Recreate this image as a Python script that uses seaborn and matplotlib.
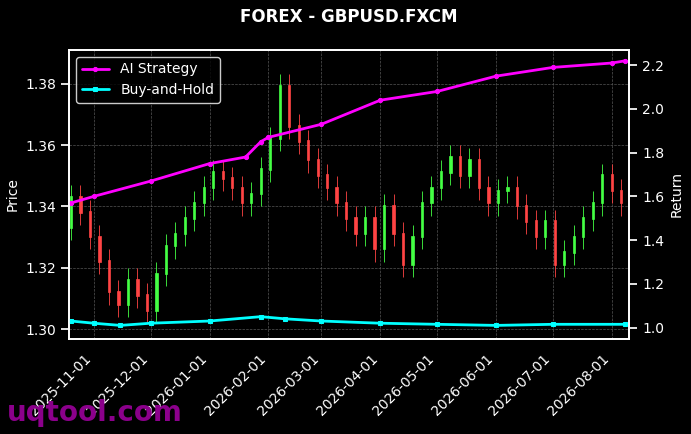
import matplotlib
matplotlib.use("Agg")
import matplotlib.pyplot as plt
import matplotlib.dates as mdates
import seaborn as sns
import pandas as pd
import numpy as np

sns.set_theme(style="dark")
plt.style.use("dark_background")
plt.rcParams['font.family'] = ['DejaVu Sans']
plt.rcParams['font.size'] = 10
plt.rcParams['xtick.labelsize'] = 10
plt.rcParams['ytick.labelsize'] = 10
plt.rcParams['axes.labelsize'] = 10
plt.rcParams['legend.fontsize'] = 10

candle_dates = pd.date_range("2025-10-20", "2026-08-08", freq="5D")
closes = [1.343,1.338,1.330,1.322,1.312,1.308,1.316,1.311,1.306,1.318,1.327,1.331,1.336,1.341,1.346,1.351,
          1.349,1.346,1.341,1.344,1.352,1.362,1.379,1.366,1.361,1.355,1.350,1.346,1.341,1.336,1.331,1.336,
          1.326,1.340,1.331,1.321,1.330,1.341,1.346,1.351,1.356,1.350,1.355,1.346,1.341,1.345,1.346,1.340,
          1.335,1.330,1.335,1.321,1.325,1.330,1.336,1.341,1.350,1.345,1.341,1.346,1.345,1.346]
closes = closes[:len(candle_dates)]
opens = [1.333] + closes[:-1]
wick = 0.004

ai_dates = pd.to_datetime(["2025-10-20","2025-11-01","2025-12-01","2026-01-01","2026-01-20","2026-01-28",
                           "2026-02-01","2026-03-01","2026-04-01","2026-05-01","2026-06-01","2026-07-01",
                           "2026-08-01","2026-08-08"])
ai_vals = [1.57,1.60,1.67,1.75,1.78,1.85,1.87,1.93,2.04,2.08,2.15,2.19,2.21,2.22]
bh_dates = pd.to_datetime(["2025-10-20","2025-11-01","2025-11-15","2025-12-01","2026-01-01","2026-01-28",
                           "2026-02-10","2026-03-01","2026-04-01","2026-05-01","2026-06-01","2026-07-01","2026-08-08"])
bh_vals = [1.03,1.02,1.01,1.02,1.03,1.05,1.04,1.03,1.02,1.015,1.01,1.015,1.015]

fig, ax = plt.subplots(figsize=(6.91, 4.34), dpi=100)
fig.patch.set_facecolor("black")
ax.set_facecolor("black")
for d, o, c in zip(candle_dates, opens, closes):
    col = "#44ff44" if c >= o else "#ff4444"
    ax.vlines(d, min(o, c) - wick, max(o, c) + wick, color=col, lw=0.6)
    ax.bar(d, abs(c - o) + 0.0005, bottom=min(o, c), width=1.2, color=col, edgecolor=col, lw=0.5)
ax.set_ylim(1.297, 1.391)
ax.set_ylabel("Price", color="white")
ax.grid(True, color="#555555", ls="--", lw=0.5)
ax.set_xlim(pd.Timestamp("2025-10-19"), pd.Timestamp("2026-08-10"))
ax.xaxis.set_major_locator(mdates.MonthLocator())
ax.xaxis.set_major_formatter(mdates.DateFormatter("%Y-%m-%d"))
plt.setp(ax.get_xticklabels(), rotation=45, ha="right")

ax2 = ax.twinx()
sns.lineplot(x=ai_dates, y=ai_vals, ax=ax2, color="magenta", lw=2, marker="o", ms=3, mec="magenta", label="AI Strategy")
sns.lineplot(x=bh_dates, y=bh_vals, ax=ax2, color="cyan", lw=2, marker="s", ms=3, mec="cyan", label="Buy-and-Hold")
ax2.set_ylim(0.95, 2.27)
ax2.set_ylabel("Return", color="white")
ax2.legend(loc="upper left", facecolor="black", edgecolor="white")
ax.set_title("FOREX - GBPUSD.FXCM", color="white", fontweight="bold", fontsize=12, pad=20)
fig.text(0.01, 0.03, "uqtool.com", color="#8b008b", fontsize=20, fontweight="bold")
fig.subplots_adjust(left=0.1, right=0.91, top=0.885, bottom=0.22)
fig.savefig("out.png", dpi=100, facecolor="black")
